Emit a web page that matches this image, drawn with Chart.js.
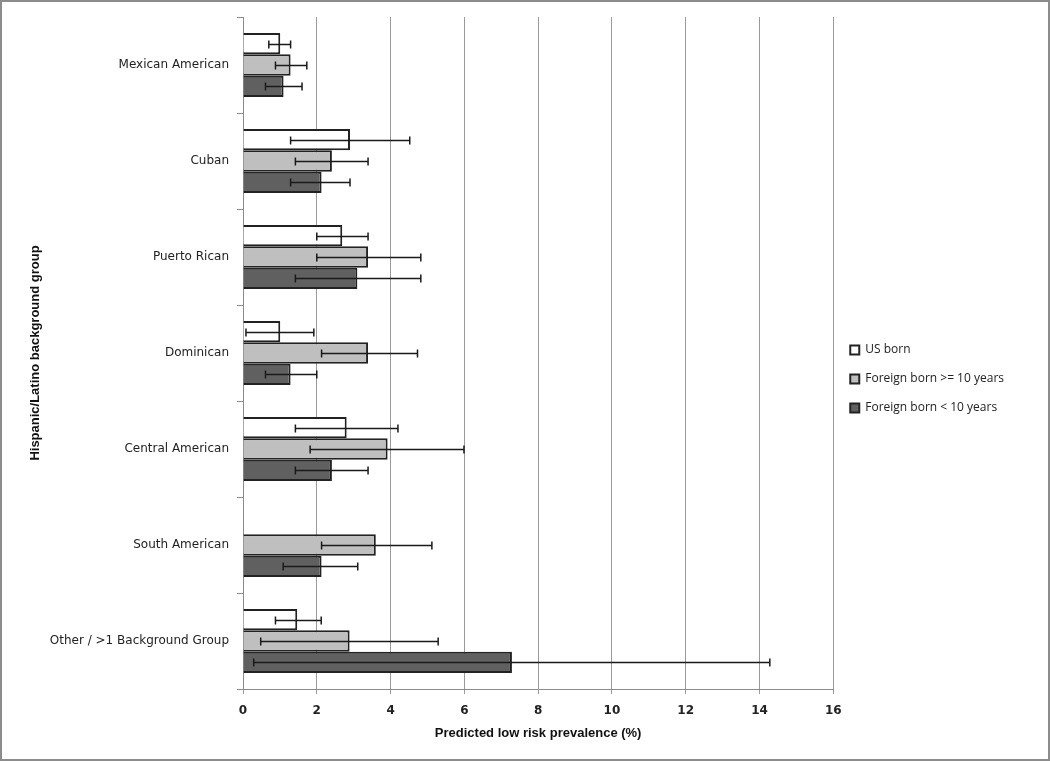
<!DOCTYPE html>
<html>
<head>
<meta charset="utf-8">
<script src="https://cdn.jsdelivr.net/npm/chart.js@4"></script>
<style>
html,body{margin:0;padding:0;background:#fff;}
#wrap{width:1050px;height:761px;position:relative;}
</style>
</head>
<body>
<div id="wrap"><canvas id="c"></canvas></div>
<script>
Chart.defaults.font.family="'DejaVu Sans',sans-serif";
Chart.defaults.color='#222';

const groups=['Mexican American','Cuban','Puerto Rican','Dominican','Central American','South American','Other / >1 Background Group'];
const seriesNames=['US born','Foreign born >= 10 years','Foreign born < 10 years'];
const xTicks=[0,2,4,6,8,10,12,14,16];

const usBorn  =[1.01,2.90,2.69,1.01,2.81,null,1.47];
const usBornLo=[0.70,1.29,2.00,0.08,1.42,null,0.88];
const usBornHi=[1.29,4.52,3.39,1.92,4.20,null,2.12];

const fb10  =[1.29,2.41,3.39,3.39,3.92,3.60,2.89];
const fb10Lo=[0.88,1.42,2.00,2.13,1.82,2.13,0.48];
const fb10Hi=[1.73,3.39,4.82,4.73,5.99,5.12,5.29];

const fbLt10  =[1.10,2.13,3.10,1.29,2.41,2.13,7.29];
const fbLt10Lo=[0.61,1.29,1.42,0.61,1.42,1.09,0.29];
const fbLt10Hi=[1.60,2.90,4.82,2.00,3.39,3.11,14.28];

const errLo=[usBornLo,fb10Lo,fbLt10Lo];
const errHi=[usBornHi,fb10Hi,fbLt10Hi];

// whisker lines drawn through the scales
const errorBars={
  id:'errorBars',
  afterDatasetsDraw(chart){
    const ctx=chart.ctx, xs=chart.scales.x;
    ctx.save();
    ctx.strokeStyle='#1a1a1a';
    ctx.lineWidth=1.5;
    chart.data.datasets.forEach((ds,di)=>{
      const meta=chart.getDatasetMeta(di);
      meta.data.forEach((bar,i)=>{
        const lo=errLo[di][i], hi=errHi[di][i];
        if(lo==null||hi==null) return;
        const y=Math.round(bar.y)+0.5;
        const x1=xs.getPixelForValue(lo), x2=xs.getPixelForValue(hi);
        ctx.beginPath();
        ctx.moveTo(x1,y);ctx.lineTo(x2,y);
        ctx.moveTo(x1,y-4);ctx.lineTo(x1,y+4);
        ctx.moveTo(x2,y-4);ctx.lineTo(x2,y+4);
        ctx.stroke();
      });
    });
    ctx.restore();
  }
};

const frame={
  id:'frame',
  afterDraw(chart){
    const ctx=chart.ctx;
    ctx.save();
    ctx.strokeStyle='#8c8c8c';
    ctx.lineWidth=2;
    ctx.strokeRect(1,1,chart.width-2,chart.height-2);
    ctx.restore();
  }
};

const BAR={borderColor:'#222',borderWidth:2,barPercentage:1.0,categoryPercentage:0.667};

new Chart(document.getElementById('c'),{
  type:'bar',
  data:{
    labels:groups,
    datasets:[
      {label:seriesNames[0],data:usBorn,backgroundColor:'#ffffff',...BAR},
      {label:seriesNames[1],data:fb10,backgroundColor:'#bfbfbf',...BAR},
      {label:seriesNames[2],data:fbLt10,backgroundColor:'#606060',...BAR}
    ]
  },
  options:{
    indexAxis:'y',
    responsive:true,maintainAspectRatio:false,
    animation:false,
    layout:{padding:{top:17,left:8,bottom:20,right:36}},
    plugins:{
      legend:{
        position:'right',align:'center',
        labels:{boxWidth:9,boxHeight:9,padding:17,color:'#222',
          font:{family:"'Open Sans',sans-serif",size:12}}
      },
      tooltip:{enabled:false}
    },
    scales:{
      x:{
        min:0,max:16,
        afterBuildTicks:s=>{s.ticks=xTicks.map(v=>({value:v}));},
        afterFit:s=>{s.height=52;},
        grid:{color:'#9a9a9a',lineWidth:1,tickLength:5,drawTicks:true},
        border:{color:'#8c8c8c'},
        ticks:{padding:10,color:'#222',font:{size:12,weight:'bold'}},
        title:{display:true,text:'Predicted low risk prevalence (%)',color:'#111',
          font:{family:"'Liberation Sans',sans-serif",size:13,weight:'bold'},padding:{top:6,bottom:0}}
      },
      y:{
        afterFit:s=>{s.width=235;},
        grid:{drawOnChartArea:false,drawTicks:true,tickLength:6,color:'#8c8c8c',offset:true},
        border:{color:'#8c8c8c'},
        ticks:{padding:8,color:'#222',font:{size:12}},
        title:{display:true,text:'Hispanic/Latino background group',color:'#111',
          font:{family:"'Liberation Sans',sans-serif",size:13,weight:'bold'},padding:{top:20,bottom:0}}
      }
    }
  },
  plugins:[errorBars,frame]
});
</script>
</body>
</html>
